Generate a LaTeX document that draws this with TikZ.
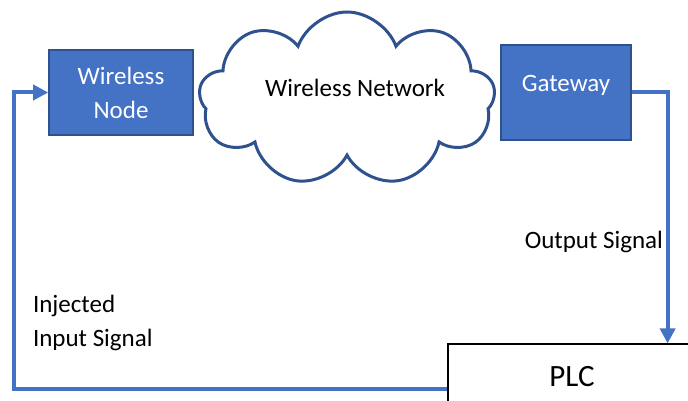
\documentclass[tikz,border=0pt]{standalone}
\usepackage{fontspec}
\setmainfont{Carlito}
\usetikzlibrary{shapes.symbols, arrows.meta}
\definecolor{boxblue}{HTML}{4472C4}
\definecolor{edgeblue}{HTML}{2F528F}
\tikzset{
    unit/.style={draw=edgeblue, fill=boxblue, line width=0.8pt, text=white, align=center, font=\fontsize{12.5}{17}\selectfont},
    netcloud/.style={cloud, cloud puffs=9, cloud puff arc=140, cloud ignores aspect, draw=edgeblue, fill=white, line width=1.5pt},
    plcbox/.style={draw=black, fill=white, line width=0.6pt, font=\fontsize{15.5}{18}\selectfont},
    lbl/.style={font=\fontsize{12.5}{17}\selectfont},
    flow/.style={-{Triangle[length=7.5pt,width=7.5pt]}, draw=boxblue, line width=2pt},
  }

\begin{document}
\begin{tikzpicture}[x=0.5pt, y=-0.5pt]
    \useasboundingbox (0,0) rectangle (688,400);
    % blocks
    \node[unit, minimum width=72pt, minimum height=42.5pt] (wnode) at (121,92.5) {Wireless\\Node};
    \node[netcloud, minimum width=148pt, minimum height=87pt] (net) at (347,99) {};
    \node[lbl] (netname) at (355,88) {Wireless Network};
    \node[unit, minimum width=65pt, minimum height=47.5pt,
          label={[lbl, text=white, yshift=3.5pt]center:Gateway}] (gw) at (566,92.5) {};
    \node[plcbox, minimum width=124pt, minimum height=33pt] (plc) at (572,377) {PLC};
    % signals
    \draw[flow] (gw.east) -| ([xshift=-14.5pt]plc.north east);
    \draw[flow] ([yshift=-6pt]plc.west) -- ++(-433,0) |- (wnode.west);
    \node[lbl, anchor=east] (outsig) at (670,242) {Output Signal};
    \node[lbl, anchor=west, align=left] (insig) at (26,323) {Injected\\Input Signal};
\end{tikzpicture}
\end{document}
